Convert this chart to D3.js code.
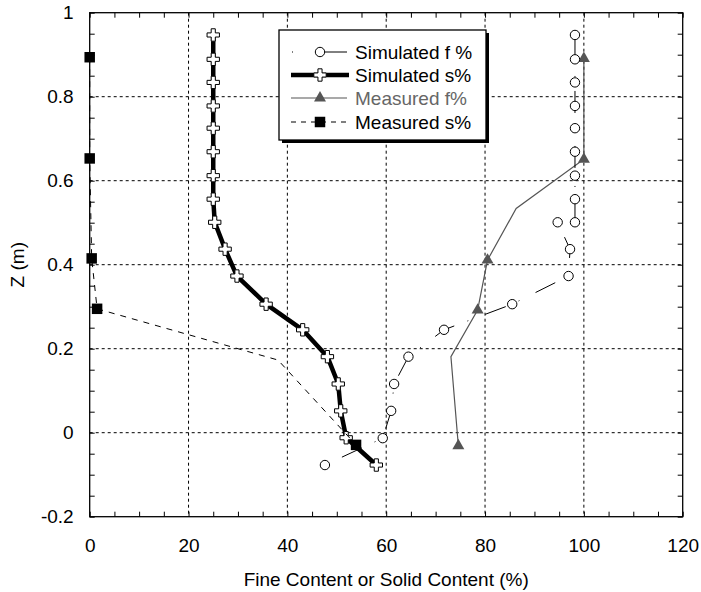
<!DOCTYPE html>
<html>
<head>
<meta charset="utf-8">
<script src="https://cdn.jsdelivr.net/npm/d3@7"></script>
<style>
  body { margin: 0; background: #fff; }
  text { font-family: "Liberation Sans", Arial, sans-serif; }
</style>
</head>
<body>
<div id="chart"></div>
<script>
// depths (m) shared by the simulated profiles
const simDepth = [0.947, 0.889, 0.834, 0.778, 0.725, 0.669, 0.612, 0.556, 0.501,
  0.437, 0.373, 0.306, 0.245, 0.181, 0.116, 0.052, -0.012, -0.077];
const simulatedS = [25.0, 25.0, 25.0, 25.0, 25.0, 25.0, 25.0, 25.0, 25.3,
  27.4, 29.8, 35.7, 43.1, 48.1, 50.3, 50.8, 51.9, 58.0];

const simFDepth = [0.947, 0.889, 0.834, 0.778, 0.725, 0.669, 0.612, 0.556, 0.501, 0.501,
  0.437, 0.373, 0.306, 0.245, 0.181, 0.116, 0.052, -0.013, -0.077];
const simulatedF = [98.2, 98.2, 98.2, 98.2, 98.2, 98.2, 98.2, 98.2, 98.2, 94.7,
  97.2, 96.9, 85.5, 71.7, 64.5, 61.6, 61.0, 59.3, 47.6];

const measFDepth = [0.891, 0.651, 0.534, 0.411, 0.292, 0.181, -0.031];
const measuredF = [100.0, 100.0, 86.3, 80.5, 78.5, 73.1, 74.6];
const measFMarker = [true, true, false, true, true, false, true];

const measSDepth = [0.894, 0.653, 0.415, 0.295, 0.173, -0.029];
const measuredS = [0.0, 0.0, 0.4, 1.5, 38.1, 53.9];
const measSMarker = [true, true, true, true, false, true];

const xTicks = [0, 20, 40, 60, 80, 100, 120];
const zTicks = [-0.2, 0, 0.2, 0.4, 0.6, 0.8, 1];
const xGrid = [20, 40, 60, 80, 100];
const zGrid = [0, 0.2, 0.4, 0.6, 0.8];

const legendLabels = ['Simulated f %', 'Simulated s%', 'Measured f%', 'Measured s%'];

const width = 701;
const height = 592;
const fontSize = 19;
const grey = '#555';

const x = d3.scaleLinear().domain([0, 120]).range([89.7, 682.7]);
const y = d3.scaleLinear().domain([-0.2, 1]).range([516.7, 12.7]);

const svg = d3.select('#chart').append('svg')
  .attr('width', width)
  .attr('height', height)
  .style('display', 'block');

svg.append('rect').attr('width', width).attr('height', height).attr('fill', '#fff');

// gridlines
const grid = svg.append('g').attr('stroke', '#000').attr('stroke-width', 1).attr('stroke-dasharray', '3,3');
grid.selectAll('.gx').data(xGrid).join('line')
  .attr('x1', (d) => x(d)).attr('x2', (d) => x(d))
  .attr('y1', y(1)).attr('y2', y(-0.2));
grid.selectAll('.gy').data(zGrid).join('line')
  .attr('y1', (d) => y(d)).attr('y2', (d) => y(d))
  .attr('x1', x(0)).attr('x2', x(120));

// inside minor ticks on all four sides
const minorX = d3.range(0, 121, 5);
const minorZ = d3.range(-0.2, 1.001, 0.05);
function stripDomain(g) { g.select('.domain').remove(); }
svg.append('g').attr('transform', `translate(0,${y(-0.2)})`)
  .call(d3.axisBottom(x).tickValues(minorX).tickSize(-5).tickFormat('')).call(stripDomain);
svg.append('g').attr('transform', `translate(0,${y(1)})`)
  .call(d3.axisTop(x).tickValues(minorX).tickSize(-5).tickFormat('')).call(stripDomain);
svg.append('g').attr('transform', `translate(${x(0)},0)`)
  .call(d3.axisLeft(y).tickValues(minorZ).tickSize(-5).tickFormat('')).call(stripDomain);
svg.append('g').attr('transform', `translate(${x(120)},0)`)
  .call(d3.axisRight(y).tickValues(minorZ).tickSize(-5).tickFormat('')).call(stripDomain);

// tick labels
svg.append('g').attr('transform', `translate(0,${y(-0.2)})`)
  .call(d3.axisBottom(x).tickValues(xTicks).tickSize(0).tickPadding(22).tickFormat(d3.format('d')))
  .call(stripDomain)
  .call((g) => g.selectAll('text').attr('font-size', fontSize).attr('fill', '#000')
    .style('font-family', '"Liberation Sans", Arial, sans-serif'));
svg.append('g').attr('transform', `translate(${x(0)},0)`)
  .call(d3.axisLeft(y).tickValues(zTicks).tickSize(0).tickPadding(16).tickFormat((d) => String(+d.toFixed(1))))
  .call(stripDomain)
  .call((g) => g.selectAll('text').attr('font-size', fontSize).attr('fill', '#000')
    .style('font-family', '"Liberation Sans", Arial, sans-serif'));

svg.selectAll('.tick line').attr('stroke', '#000');

// frame
svg.append('rect')
  .attr('x', x(0)).attr('y', y(1))
  .attr('width', x(120) - x(0)).attr('height', y(-0.2) - y(1))
  .attr('fill', 'none').attr('stroke', '#000').attr('stroke-width', 1.3);

// axis titles
svg.append('text')
  .attr('x', (x(0) + x(120)) / 2).attr('y', 586)
  .attr('text-anchor', 'middle').attr('font-size', fontSize)
  .text('Fine Content or Solid Content (%)');
svg.append('text')
  .attr('transform', `translate(24,${(y(1) + y(-0.2)) / 2}) rotate(-90)`)
  .attr('text-anchor', 'middle').attr('font-size', fontSize)
  .text('Z (m)');

const line = d3.line().x((d) => x(d[0])).y((d) => y(d[1]));
const zip = (xs, zs) => xs.map((v, i) => [v, zs[i]]);

const simF = zip(simulatedF, simFDepth);
const simS = zip(simulatedS, simDepth);
const measF = zip(measuredF, measFDepth);
const measS = zip(measuredS, measSDepth);

const crossPath = d3.symbol().type(d3.symbolCross).size(85)();
const trianglePath = d3.symbol().type(d3.symbolTriangle).size(62)();
const squarePath = d3.symbol().type(d3.symbolSquare).size(110)();

const plot = svg.append('g');

// measured f%
plot.append('path').datum(measF).attr('d', line)
  .attr('fill', 'none').attr('stroke', grey).attr('stroke-width', 1.2);
plot.selectAll('.tri').data(measF.filter((d, i) => measFMarker[i])).join('path')
  .attr('transform', (d) => `translate(${x(d[0])},${y(d[1])})`)
  .attr('d', trianglePath).attr('fill', grey);

// simulated s%
plot.append('path').datum(simS).attr('d', line)
  .attr('fill', 'none').attr('stroke', '#000').attr('stroke-width', 4.5).attr('stroke-linejoin', 'round');
plot.selectAll('.cross').data(simS).join('path')
  .attr('transform', (d) => `translate(${x(d[0])},${y(d[1])})`)
  .attr('d', crossPath).attr('fill', '#fff').attr('stroke', '#000').attr('stroke-width', 1);

// simulated f%
plot.append('path').datum(simF).attr('d', line)
  .attr('fill', 'none').attr('stroke', '#000').attr('stroke-width', 1)
  .attr('stroke-dasharray', '1,14,22,18').attr('stroke-dashoffset', 14);
plot.selectAll('.circ').data(simF).join('circle')
  .attr('cx', (d) => x(d[0])).attr('cy', (d) => y(d[1])).attr('r', 4.7)
  .attr('fill', '#fff').attr('stroke', '#000').attr('stroke-width', 1);

// measured s%
plot.append('path').datum(measS).attr('d', line)
  .attr('fill', 'none').attr('stroke', '#000').attr('stroke-width', 1).attr('stroke-dasharray', '6,6');
plot.selectAll('.sq').data(measS.filter((d, i) => measSMarker[i])).join('path')
  .attr('transform', (d) => `translate(${x(d[0])},${y(d[1])})`)
  .attr('d', squarePath).attr('fill', '#000');

// legend
const legend = svg.append('g').attr('transform', 'translate(279,30)');
legend.append('rect').attr('x', 3).attr('y', 3).attr('width', 207).attr('height', 110).attr('fill', '#000');
legend.append('rect').attr('width', 207).attr('height', 110)
  .attr('fill', '#fff').attr('stroke', '#000').attr('stroke-width', 1.3);

const rowY = [22, 45, 68, 92];
const items = legend.selectAll('.item').data(legendLabels).join('g')
  .attr('transform', (d, i) => `translate(0,${rowY[i]})`);

items.append('text')
  .attr('x', 76).attr('y', 6.5)
  .attr('font-size', fontSize)
  .attr('fill', (d, i) => (i === 2 ? '#666' : '#000'))
  .text((d) => d);

// sample for simulated f
const s0 = legend.append('g').attr('transform', `translate(0,${rowY[0]})`);
s0.append('line').attr('x1', 13).attr('x2', 14).attr('stroke', '#000');
s0.append('line').attr('x1', 41).attr('x2', 68).attr('stroke', '#000');
s0.append('circle').attr('cx', 41).attr('r', 4.7).attr('fill', '#fff').attr('stroke', '#000');

const s1 = legend.append('g').attr('transform', `translate(0,${rowY[1]})`);
s1.append('line').attr('x1', 12).attr('x2', 70).attr('stroke', '#000').attr('stroke-width', 4.5);
s1.append('path').attr('transform', 'translate(41,0)').attr('d', crossPath)
  .attr('fill', '#fff').attr('stroke', '#000');

const s2 = legend.append('g').attr('transform', `translate(0,${rowY[2]})`);
s2.append('line').attr('x1', 12).attr('x2', 68).attr('stroke', grey).attr('stroke-width', 1.2);
s2.append('path').attr('transform', 'translate(41,0)').attr('d', trianglePath).attr('fill', grey);

const s3 = legend.append('g').attr('transform', `translate(0,${rowY[3]})`);
s3.append('line').attr('x1', 12).attr('x2', 68).attr('stroke', '#000').attr('stroke-dasharray', '5,5');
s3.append('path').attr('transform', 'translate(41,0)').attr('d', squarePath).attr('fill', '#000');
</script>
</body>
</html>
